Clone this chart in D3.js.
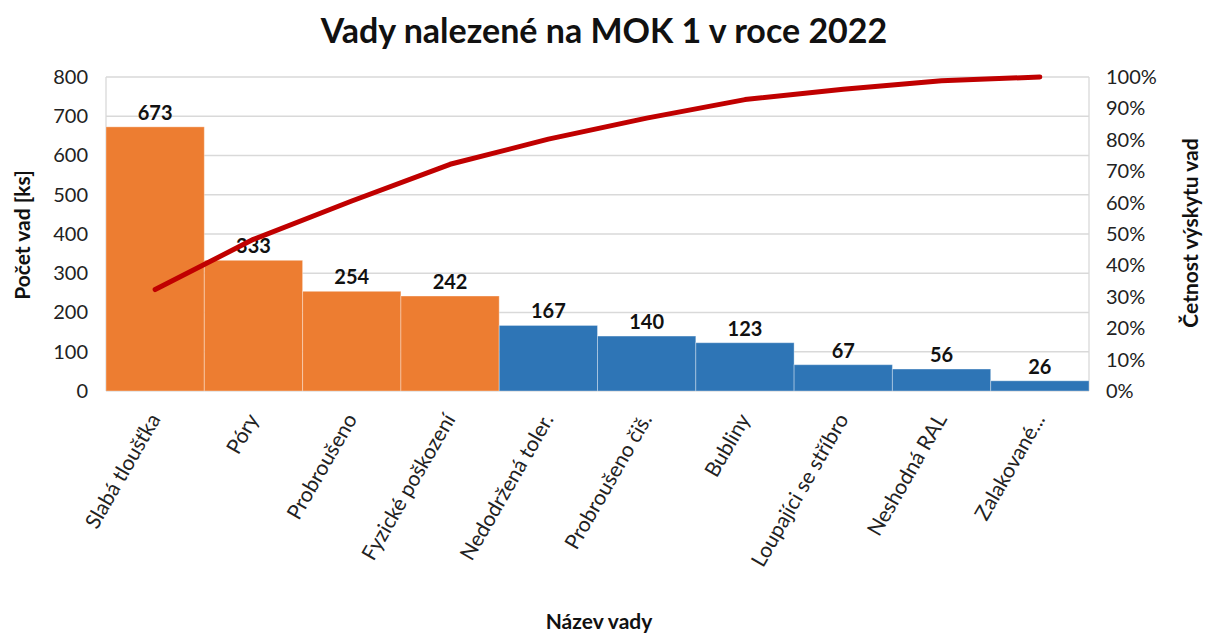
<!DOCTYPE html>
<html>
<head>
<meta charset="utf-8">
<script src="https://cdn.jsdelivr.net/npm/d3@7"></script>
<style>
  html, body { margin: 0; padding: 0; background: #fff; }
  svg { display: block; font-family: Lato, "Open Sans", sans-serif; }
</style>
</head>
<body>
<svg id="chart" width="1206" height="633"></svg>
<script>
// Defect names and counts (ks)
const categories = [
  "Slabá tloušťka", "Póry", "Probroušeno", "Fyzické poškození", "Nedodržená toler.",
  "Probroušeno čiš.", "Bubliny", "Loupajíci se stříbro", "Neshodná RAL", "Zalakované..."
];
const counts = [673, 333, 254, 242, 167, 140, 123, 67, 56, 26];
// Cumulative share of defects (%)
const cumulativePct = [32.3, 48.3, 60.5, 72.2, 80.2, 86.9, 92.8, 96.1, 98.8, 100];
// Bars in the first group (vital few) are highlighted
const highlightCount = 4;
const countTicks = [0, 100, 200, 300, 400, 500, 600, 700, 800];
const pctTicks = [0, 10, 20, 30, 40, 50, 60, 70, 80, 90, 100];

const svg = d3.select("#chart");
const m = { left: 106, right: 1089, top: 77, bottom: 391 };

const x = d3.scaleBand().domain(categories).range([m.left, m.right]).paddingInner(0).paddingOuter(0);
const y = d3.scaleLinear().domain([0, 800]).range([m.bottom, m.top]);
const yPct = d3.scaleLinear().domain([0, 100]).range([m.bottom, m.top]);

const orange = "#ED7D31", blue = "#2E75B6", red = "#C00000", grid = "#D9D9D9";

// Horizontal gridlines
svg.append("g")
  .selectAll("line").data(countTicks).join("line")
  .attr("x1", m.left).attr("x2", m.right)
  .attr("y1", d => y(d)).attr("y2", d => y(d))
  .attr("stroke", grid).attr("stroke-width", 1.3);

// Plot frame sides
svg.append("line").attr("x1", m.left).attr("x2", m.left).attr("y1", m.top).attr("y2", m.bottom)
  .attr("stroke", grid).attr("stroke-width", 1.3);
svg.append("line").attr("x1", m.right).attr("x2", m.right).attr("y1", m.top).attr("y2", m.bottom)
  .attr("stroke", grid).attr("stroke-width", 1.3);

// Bars
svg.append("g")
  .selectAll("rect").data(counts).join("rect")
  .attr("x", (d, i) => x(categories[i]))
  .attr("y", d => y(d))
  .attr("width", x.bandwidth())
  .attr("height", d => y(0) - y(d))
  .attr("fill", (d, i) => i < highlightCount ? orange : blue)
  .attr("stroke", "#ffffff").attr("stroke-opacity", 0.35).attr("stroke-width", 1);

// Bar value labels
svg.append("g")
  .selectAll("text").data(counts).join("text")
  .attr("x", (d, i) => x(categories[i]) + x.bandwidth() / 2)
  .attr("y", d => y(d) - 7)
  .attr("text-anchor", "middle")
  .attr("font-weight", 700).attr("font-size", 20).attr("fill", "#111")
  .text(d => d);

// Cumulative percentage line
const line = d3.line()
  .x((d, i) => x(categories[i]) + x.bandwidth() / 2)
  .y(d => yPct(d));
svg.append("path").datum(cumulativePct)
  .attr("d", line)
  .attr("fill", "none").attr("stroke", red).attr("stroke-width", 5)
  .attr("stroke-linecap", "round").attr("stroke-linejoin", "round");

// Left axis
const leftAxis = svg.append("g").attr("transform", `translate(${m.left},0)`)
  .call(d3.axisLeft(y).tickValues(countTicks).tickSize(0).tickPadding(18));
leftAxis.select(".domain").remove();
leftAxis.selectAll("text").attr("font-size", 20).attr("fill", "#222").attr("font-family", "Lato");

// Right axis
const rightAxis = svg.append("g").attr("transform", `translate(${m.right},0)`)
  .call(d3.axisRight(yPct).tickValues(pctTicks).tickSize(0).tickPadding(17).tickFormat(d => d + "%"));
rightAxis.select(".domain").remove();
rightAxis.selectAll("text").attr("font-size", 20).attr("fill", "#222").attr("font-family", "Lato");

// Category labels, rotated
svg.append("g")
  .selectAll("text").data(categories).join("text")
  .attr("transform", d => `translate(${x(d) + x.bandwidth() / 2 + 6},${m.bottom + 28}) rotate(-60)`)
  .attr("text-anchor", "end")
  .attr("font-size", 21).attr("fill", "#222")
  .text(d => d);

// Title
svg.append("text")
  .attr("x", 604).attr("y", 43)
  .attr("text-anchor", "middle")
  .attr("font-weight", 700).attr("font-size", 34).attr("fill", "#111")
  .text("Vady nalezené na MOK 1 v roce 2022");

// Axis titles
svg.append("text")
  .attr("transform", "translate(30,235) rotate(-90)")
  .attr("text-anchor", "middle")
  .attr("font-weight", 700).attr("font-size", 21).attr("fill", "#111")
  .text("Počet vad [ks]");
svg.append("text")
  .attr("transform", "translate(1198,233) rotate(-90)")
  .attr("text-anchor", "middle")
  .attr("font-weight", 700).attr("font-size", 21).attr("fill", "#111")
  .text("Četnost výskytu vad");
svg.append("text")
  .attr("x", 599).attr("y", 629)
  .attr("text-anchor", "middle")
  .attr("font-weight", 700).attr("font-size", 21).attr("fill", "#111")
  .text("Název vady");
</script>
</body>
</html>
